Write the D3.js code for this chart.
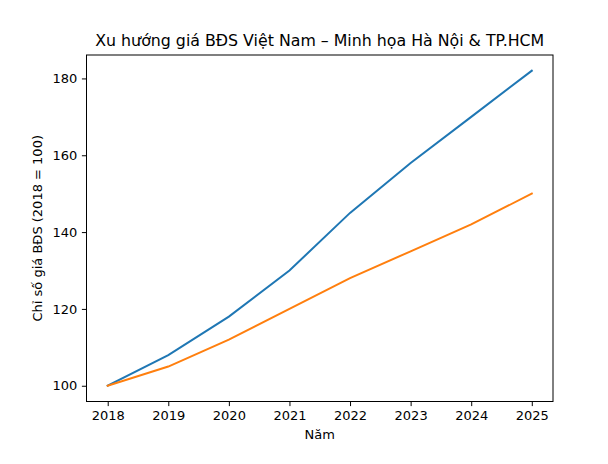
<!DOCTYPE html>
<html><head><meta charset="utf-8">
<script src="https://cdn.jsdelivr.net/npm/d3@7"></script>
<style>body{margin:0;background:#fff}svg{display:block}text{font-family:"DejaVu Sans",sans-serif;fill:#000}</style>
</head><body><svg id="c" width="608" height="464"></svg>
<script>
const years = [2018, 2019, 2020, 2021, 2022, 2023, 2024, 2025];
const hanoi = [100, 108, 118, 130, 145, 158, 170, 182];
const hcm = [100, 105, 112, 120, 128, 135, 142, 150];
const yTicks = [100, 120, 140, 160, 180];
const colors = ["#1f77b4", "#ff7f0e"];

const svg = d3.select("#c");
const L = 86.5, R = 553, T = 55, B = 401.5;
const x = d3.scaleLinear().domain([2018 - 0.35, 2025 + 0.35]).range([L, R]);
const yMin = 100, yMax = 182, pad = (yMax - yMin) * 0.05;
const y = d3.scaleLinear().domain([yMin - pad, yMax + pad]).range([B, T]);

const xAxis = d3.axisBottom(x).tickValues(years).tickFormat(d3.format("d")).tickSize(4.6).tickPadding(4.5);
const yAxis = d3.axisLeft(y).tickValues(yTicks).tickSize(4.6).tickPadding(4.5);

const gx = svg.append("g").attr("transform", `translate(0,${B})`).call(xAxis);
const gy = svg.append("g").attr("transform", `translate(${L},0)`).call(yAxis);
[gx, gy].forEach(g => {
  g.select(".domain").remove();
  g.selectAll("line").attr("stroke", "#000").attr("stroke-width", 1);
  g.selectAll("text").style("font-size", "13px").style("font-family", "DejaVu Sans");
});

const line = d3.line().x((d, i) => x(years[i])).y(d => y(d));
[hanoi, hcm].forEach((s, k) => {
  svg.append("path").datum(s).attr("d", line).attr("fill", "none")
    .attr("stroke", colors[k]).attr("stroke-width", 2).attr("stroke-linecap", "square");
});

svg.append("rect").attr("x", L).attr("y", T).attr("width", R - L).attr("height", B - T)
  .attr("fill", "none").attr("stroke", "#000").attr("stroke-width", 1);

svg.append("text").attr("x", (L + R) / 2).attr("y", 46).attr("text-anchor", "middle")
  .style("font-size", "15.8px").text("Xu hướng giá BĐS Việt Nam – Minh họa Hà Nội & TP.HCM");
svg.append("text").attr("x", (L + R) / 2).attr("y", 439).attr("text-anchor", "middle")
  .style("font-size", "13px").text("Năm");
svg.append("text").attr("transform", `translate(42,${(T + B) / 2}) rotate(-90)`).attr("text-anchor", "middle")
  .style("font-size", "13px").text("Chỉ số giá BĐS (2018 = 100)");
</script></body></html>
